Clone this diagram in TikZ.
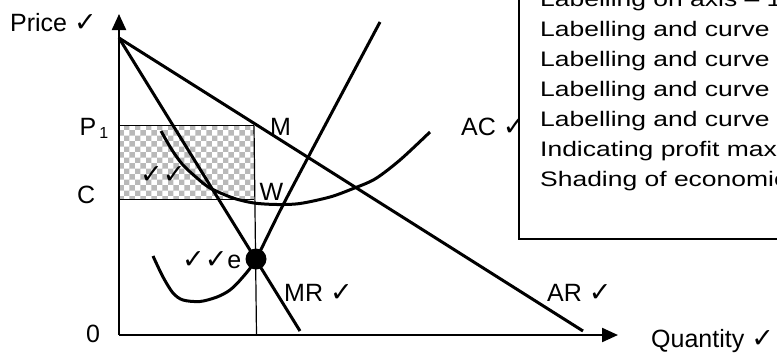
\documentclass[tikz,border=0pt]{standalone}
\usepackage{fontspec}
\setmainfont{Liberation Sans}
\newfontfamily\chkfont{DejaVu Sans}
\newfontfamily\boxfont[FakeStretch=1.26]{Liberation Sans}
\usetikzlibrary{arrows.meta,patterns}
\newcommand\chk{{\chkfont\fontsize{27}{27}\selectfont ✓}}
\begin{document}
\begin{tikzpicture}[x=1pt,y=-1pt,
  bold line/.style={line width=3pt},
  thin line/.style={line width=1.2pt},
  axisline/.style={line width=2.2pt,-{Triangle[length=16pt,width=14pt]}},
  lbl/.style={font=\fontsize{25}{30}\selectfont, inner sep=0pt, anchor=base west},
  boxtxt/.style={font=\boxfont\fontsize{21}{30}\selectfont, inner sep=0pt, anchor=base west}]
\useasboundingbox (0,0) rectangle (777,354);
\fill[white] (0,0) rectangle (777,354);
\begin{scope}
\clip (0,0) rectangle (777,354);
% key points
\coordinate (O) at (119,335);
\coordinate (ytop) at (119,14);
\coordinate (xend) at (618,335);
\coordinate (A) at (119,38);
\coordinate (ARend) at (583,331);
\coordinate (MRend) at (300,331);
\coordinate (P1) at (119,125.7);
\coordinate (M) at (254,125.7);
\coordinate (C) at (119,199.3);
\coordinate (Wc) at (254,199.3);
\coordinate (Q) at (256.5,335);
\coordinate (e) at (256,259);
% shaded profit area
\fill[pattern=checkerboard, pattern color=gray!55] (P1) rectangle (Wc);
\draw[thin line] (P1) -- (M);
\draw[thin line] (C) -- (Wc);
\draw[thin line] (M) -- (Q);
% axes
\draw[axisline] (O) -- (ytop);
\draw[axisline] (O) -- (xend);
% AR and MR
\draw[bold line] (A) -- (ARend);
\draw[bold line] (A) -- (MRend);
% AC
\draw[bold line] plot[smooth] coordinates {(161,131) (172,150) (183,165) (197,178) (210,188) (233,198) (254,203) (277,204.5) (300,203.5) (330,197) (352,189) (375,179) (400,160) (430,132)};
% MC
\draw[bold line] plot[smooth] coordinates {(153,256) (163,277) (173,293) (183,300) (200,301.5) (217,297) (230,290) (242,278) (256,259) (283,205) (330,116) (380,22)};
\fill (e) circle[radius=10.5pt];
% labels
\node[lbl] (price) at (10,31.7) {Price \chk};
\node[lbl] (p1lab) at (79.5,135) {P\hspace{3pt}\raisebox{-3pt}{\fontsize{16}{16}\selectfont 1}};
\node[lbl] (clab) at (77,203) {C};
\node[lbl] (zero) at (86,342) {0};
\node[lbl] (mlab) at (270,135) {M};
\node[lbl] (wlab) at (259.5,200) {W};
\node[lbl] (shade) at (140,183) {\chk\chk};
\node[lbl] (elab) at (182,268) {\chk\chk e};
\node[lbl] (mrlab) at (284,301) {MR \chk};
\node[lbl] (arlab) at (547,301) {AR \chk};
\node[lbl] (qlab) at (651,347) {Quantity \chk};
\node[lbl] (aclab) at (461,135) {AC \chk};
% mark scheme box
\draw[thin line, fill=white] (519,-5) rectangle (790,239);
\node[boxtxt] (t0) at (540,6.7) {Labelling on axis – 1};
\node[boxtxt] (t1) at (540,36.7) {Labelling and curve};
\node[boxtxt] (t2) at (540,66.7) {Labelling and curve};
\node[boxtxt] (t3) at (540,96.7) {Labelling and curve};
\node[boxtxt] (t4) at (540,126.7) {Labelling and curve};
\node[boxtxt] (t5) at (540,156.7) {Indicating profit max};
\node[boxtxt] (t6) at (540,186.7) {Shading of economic};
\end{scope}
\end{tikzpicture}
\end{document}
